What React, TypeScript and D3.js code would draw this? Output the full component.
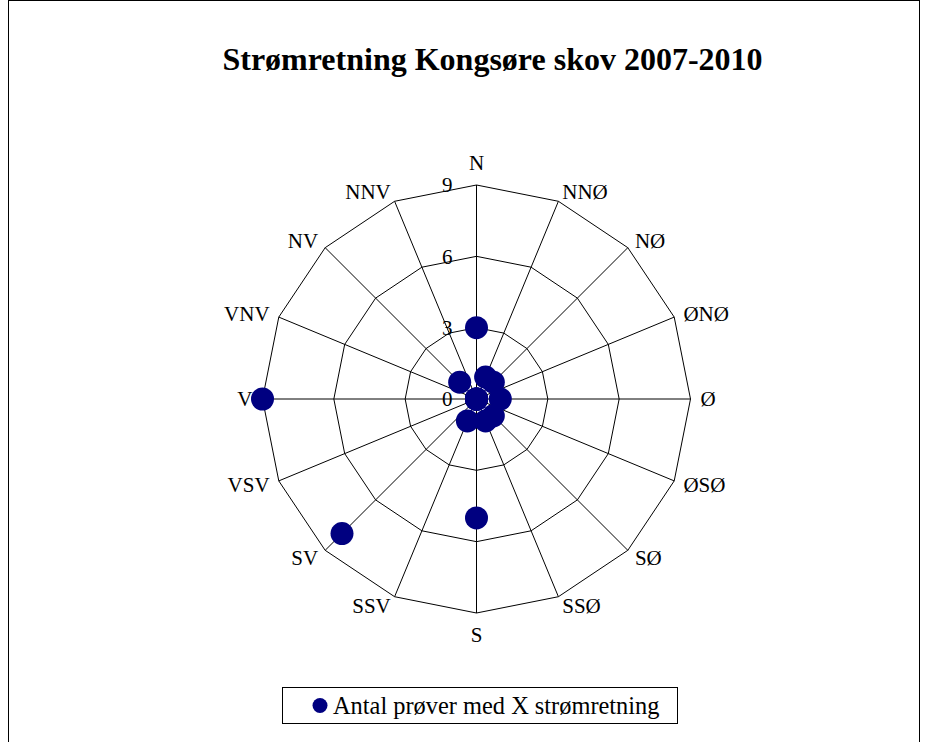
import * as d3 from "d3";

const directions = ["N", "NNØ", "NØ", "ØNØ", "Ø", "ØSØ", "SØ", "SSØ", "S", "SSV", "SV", "VSV", "V", "VNV", "NV", "NNV"];
const counts = [3, 1, 1, 0, 1, 0, 1, 1, 5, 1, 8, 0, 9, 0, 1, 0];
const ticks = [0, 3, 6, 9];
const title = "Strømretning Kongsøre skov 2007-2010";
const seriesName = "Antal prøver med X strømretning";

const W = 928;
const H = 742;
const cx = 476.5;
const cy = 399;
const R = 214;
const navy = "#000080";
const font = "'Liberation Serif', 'Times New Roman', serif";

export default function App() {
  const r = d3.scaleLinear().domain([0, 9]).range([0, R]);
  const ang = (i: number) => (i * 2 * Math.PI) / directions.length;

  const ring = d3
    .lineRadial<number>()
    .angle((_, i) => ang(i))
    .radius((d) => r(d))
    .curve(d3.curveLinearClosed);

  // labels sit just outside the outer ring, pushed a bit further at N and S
  const labelPos = (i: number) => {
    const a = ang(i);
    const s = Math.sin(a);
    const c = Math.cos(a);
    const extra = Math.abs(s) < 0.1 ? 12 : 0;
    const d = R + 10 + extra;
    const anchor = s > 0.1 ? "start" : s < -0.1 ? "end" : "middle";
    return { x: cx + d * s, y: cy - d * c, anchor };
  };

  return (
    <svg width={W} height={H} style={{ position: "absolute", left: 0, top: 0 }} fontFamily={font}>
      <rect x={8.5} y={0.5} width={911} height={H + 10} fill="white" stroke="black" strokeWidth={1} />
      <text x={492.5} y={70} textAnchor="middle" fontSize={32} fontWeight="bold">
        {title}
      </text>

      <g transform={`translate(${cx},${cy})`}>
        {ticks.filter((t) => t > 0).map((t) => (
          <path key={t} d={ring(directions.map(() => t)) || ""} fill="none" stroke="black" strokeWidth={1} />
        ))}
        {directions.map((d, i) => (
          <line
            key={d}
            x1={0}
            y1={0}
            x2={r(9) * Math.sin(ang(i))}
            y2={-r(9) * Math.cos(ang(i))}
            stroke="black"
            strokeWidth={1}
          />
        ))}
        {ticks.map((t) => (
          <text key={t} x={-24} y={-r(t)} dy="0.35em" textAnchor="end" fontSize={21}>
            {t}
          </text>
        ))}
        {counts.map((v, i) => (
          <circle key={i} cx={r(v) * Math.sin(ang(i))} cy={-r(v) * Math.cos(ang(i))} r={11.5} fill={navy} />
        ))}
      </g>

      {directions.map((d, i) => {
        const p = labelPos(i);
        return (
          <text key={d} x={p.x} y={p.y} dy="0.35em" textAnchor={p.anchor} fontSize={21}>
            {d}
          </text>
        );
      })}

      <rect x={282.5} y={687.5} width={395} height={36} fill="white" stroke="black" strokeWidth={1} />
      <circle cx={320} cy={705.5} r={7.5} fill={navy} />
      <text x={333} y={705.5} dy="0.35em" fontSize={24.4}>
        {seriesName}
      </text>
    </svg>
  );
}
